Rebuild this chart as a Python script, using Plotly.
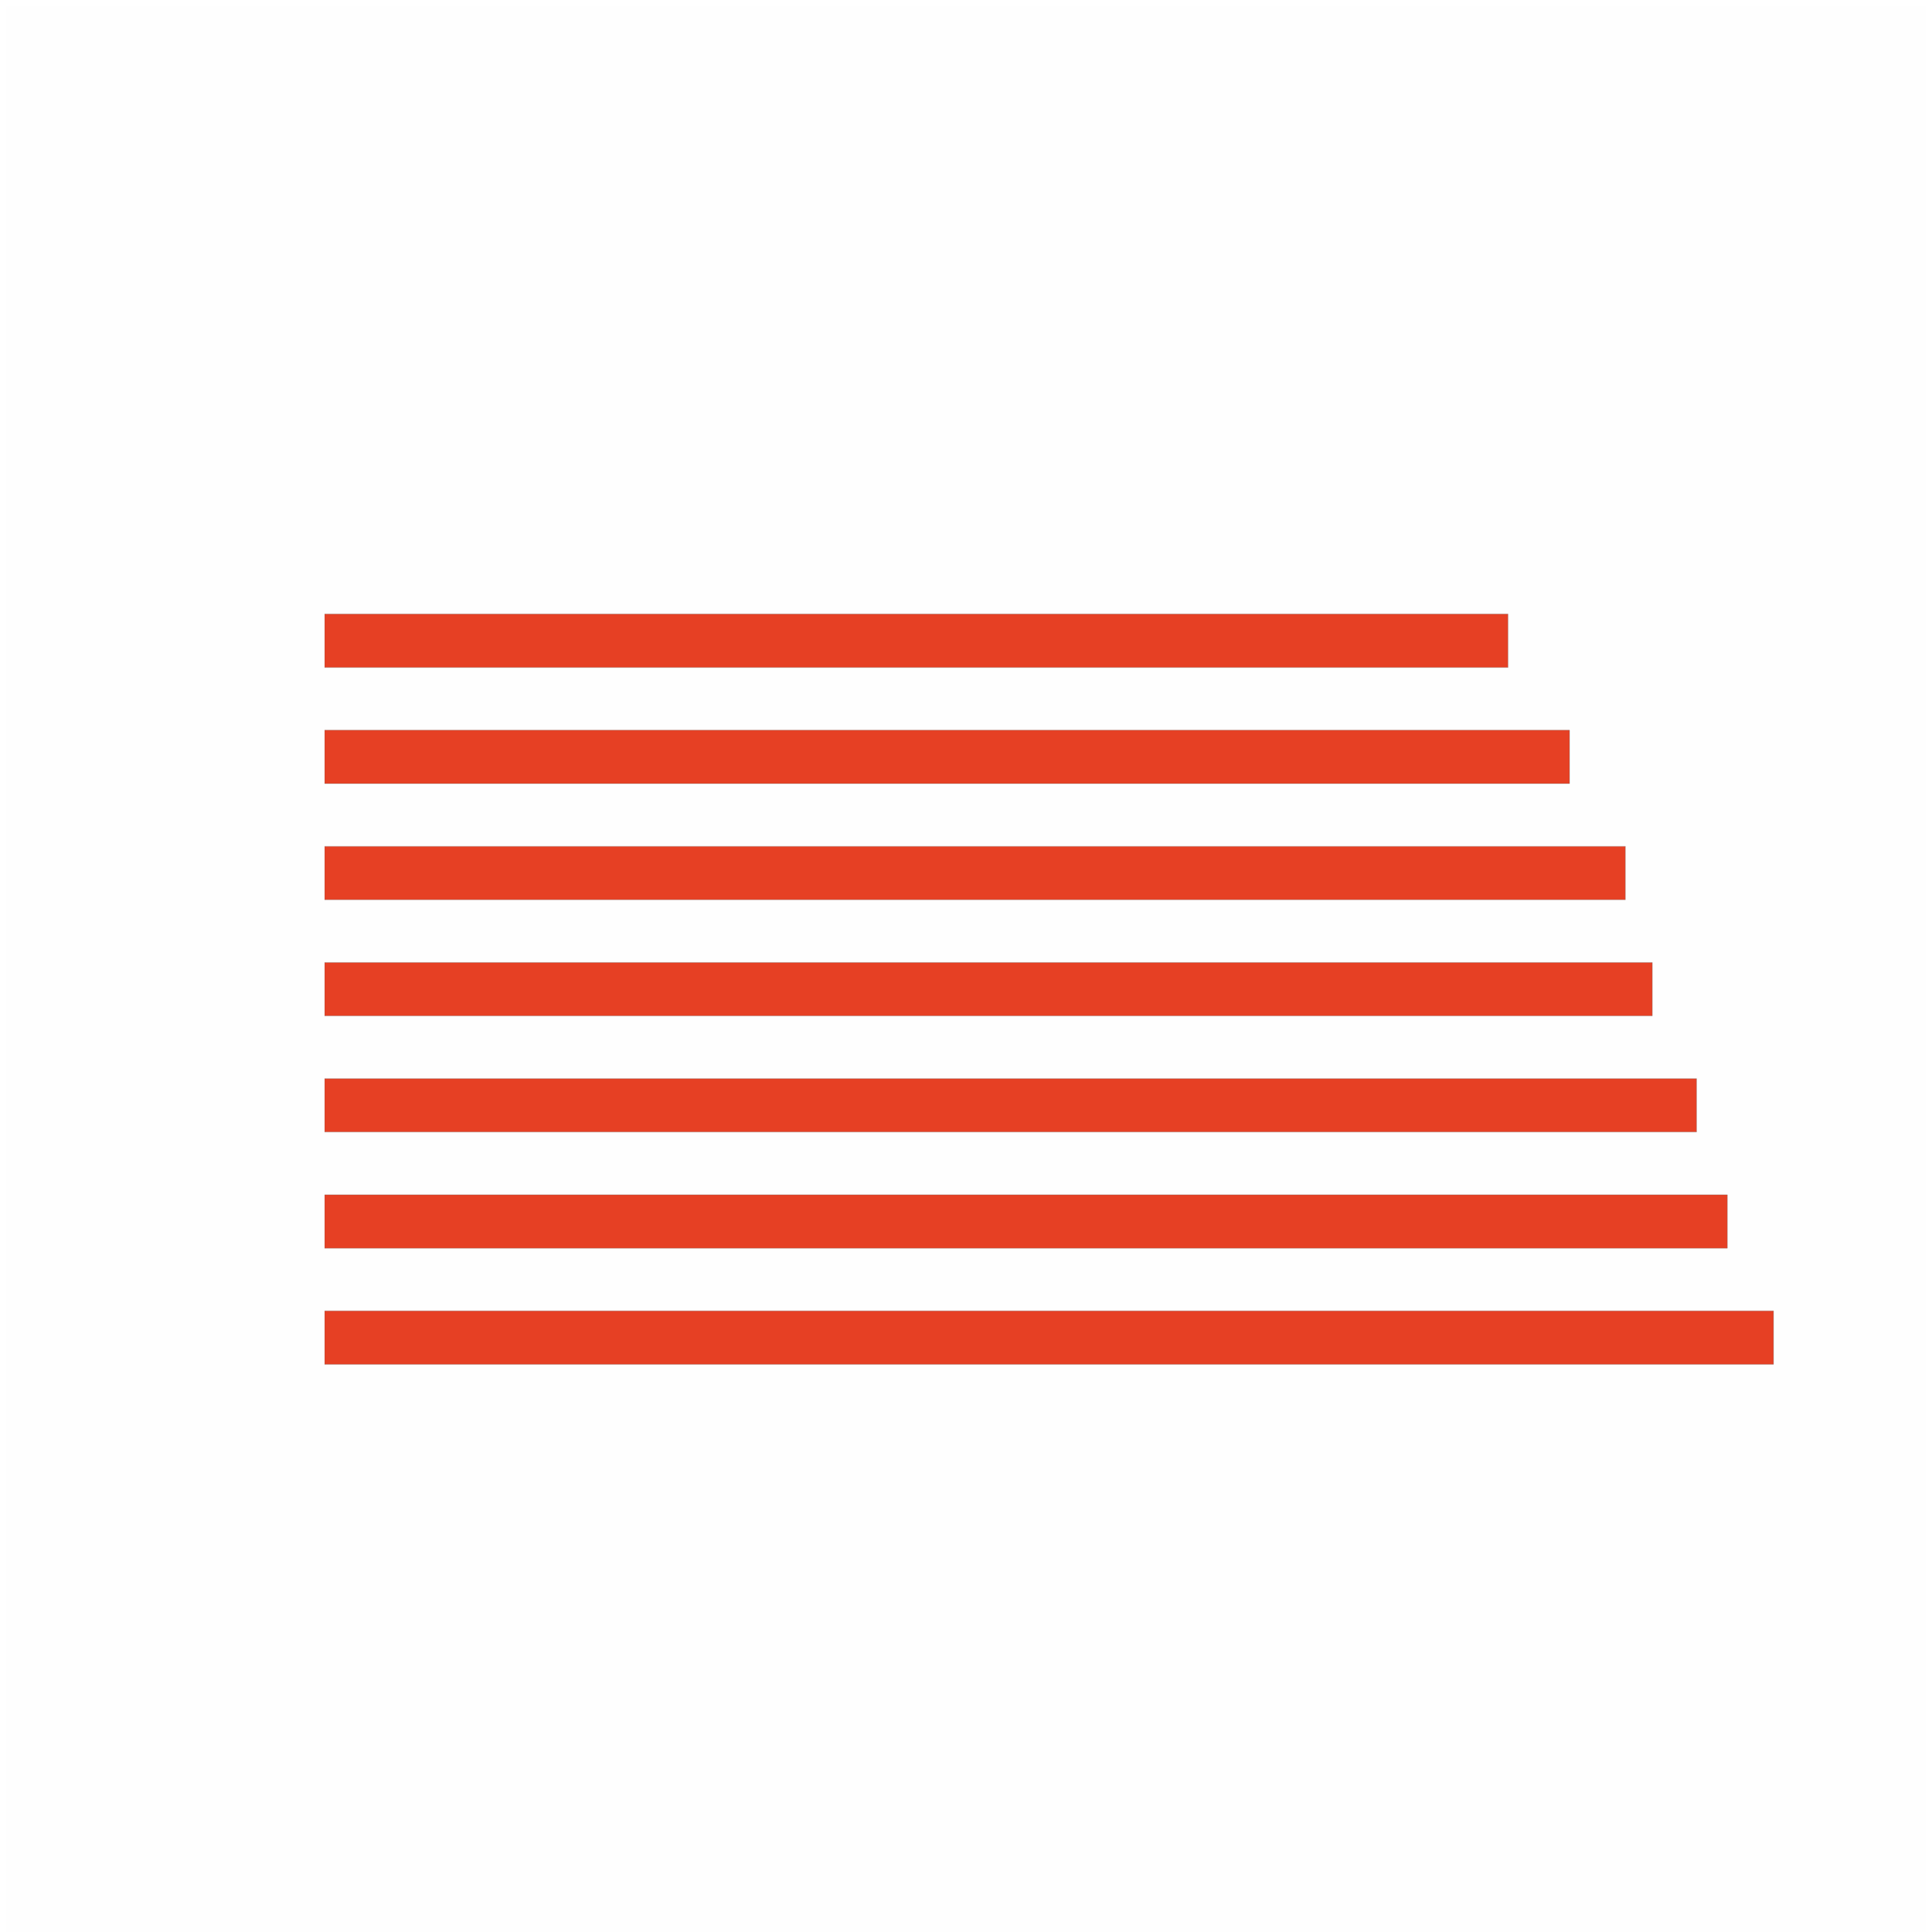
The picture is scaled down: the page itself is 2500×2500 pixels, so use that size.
import plotly.graph_objects as go

# bars, top to bottom (no labels shown in the chart)
categories = ["A", "B", "C", "D", "E", "F", "G"]
values = [61.5, 64.7, 67.6, 69.0, 71.3, 72.9, 75.3]

bar_color = "#E64024"

fig = go.Figure()
fig.add_trace(
    go.Bar(
        x=values,
        y=categories,
        orientation="h",
        marker=dict(color=bar_color, line=dict(color="rgba(120,120,120,0.35)", width=1)),
        hoverinfo="x+y",
    )
)

# page body adds an 8px offset, so margins are trimmed by that much
fig.update_layout(
    width=2500,
    height=2500,
    autosize=False,
    showlegend=False,
    bargap=0.54,
    paper_bgcolor="#FEFEFE",
    plot_bgcolor="#FEFEFE",
    margin=dict(l=412, r=96, t=746, b=702),
)
fig.update_xaxes(range=[0, 80], dtick=10, showgrid=False, zeroline=False,
                 showticklabels=False, showline=False)
fig.update_yaxes(autorange="reversed", showgrid=False, zeroline=False,
                 showticklabels=False, showline=False)

fig.write_html("out.html")
